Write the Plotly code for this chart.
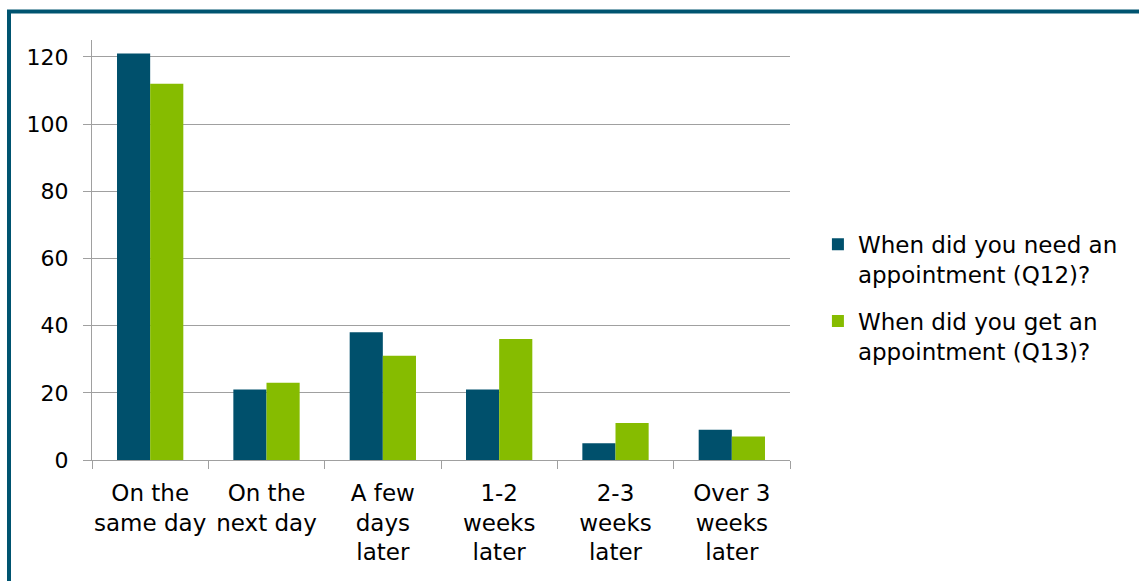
import plotly.graph_objects as go

categories = ["On the<br>same day", "On the<br>next day", "A few<br>days<br>later",
              "1-2<br>weeks<br>later", "2-3<br>weeks<br>later", "Over 3<br>weeks<br>later"]
need_values = [121, 21, 38, 21, 5, 9]
got_values = [112, 23, 31, 36, 11, 7]
need_name = "When did you need an<br>appointment (Q12)?"
got_name = "When did you get an<br>appointment (Q13)?"

BLUE = "#00506c"
GREEN = "#86bc00"
GRID = "#a0a0a0"
FONT = "DejaVu Sans"

fig = go.Figure()
fig.add_trace(go.Bar(x=categories, y=need_values, name=need_name,
                     marker=dict(color=BLUE, line=dict(width=0)), legendgroup="a"))
fig.add_trace(go.Bar(x=categories, y=got_values, name=got_name,
                     marker=dict(color=GREEN, line=dict(width=0)), legendgroup="b"))

fig.update_layout(
    width=1139, height=581,
    margin=dict(l=92, r=349, t=40, b=121),
    paper_bgcolor="white", plot_bgcolor="white",
    barmode="group", bargap=0.43, bargroupgap=0,
    font=dict(family=FONT, size=22, color="#000000"),
    legend=dict(x=1.04, xanchor="left", y=0.565, yanchor="top",
                font=dict(family=FONT, size=23, color="#000000"),
                valign="top", tracegroupgap=14, traceorder="grouped",
                bgcolor="rgba(0,0,0,0)"),
    showlegend=True,
)

fig.update_xaxes(
    type="category", tickson="boundaries", ticks="outside", ticklen=8,
    tickcolor=GRID, tickwidth=1, showline=True, linecolor=GRID, linewidth=1,
    showgrid=False, tickfont=dict(family=FONT, size=23), tickangle=0,
    ticklabelstandoff=12,
)
fig.update_yaxes(
    range=[0, 125], tickvals=[0, 20, 40, 60, 80, 100, 120],
    ticks="outside", ticklen=8, tickcolor=GRID, tickwidth=1,
    showline=True, linecolor=GRID, linewidth=1,
    showgrid=True, gridcolor=GRID, gridwidth=1, zeroline=False,
    tickfont=dict(family=FONT, size=22), ticklabelstandoff=10,
)

# Dark teal frame around the chart
fig.add_shape(type="rect", xref="paper", yref="paper",
              x0=(9 - 92) / 698, x1=2.0, y0=-1.0, y1=(460 - 11.5) / 420,
              line=dict(color="#005470", width=4), fillcolor="rgba(0,0,0,0)",
              layer="below")

fig.write_html("out.html")
